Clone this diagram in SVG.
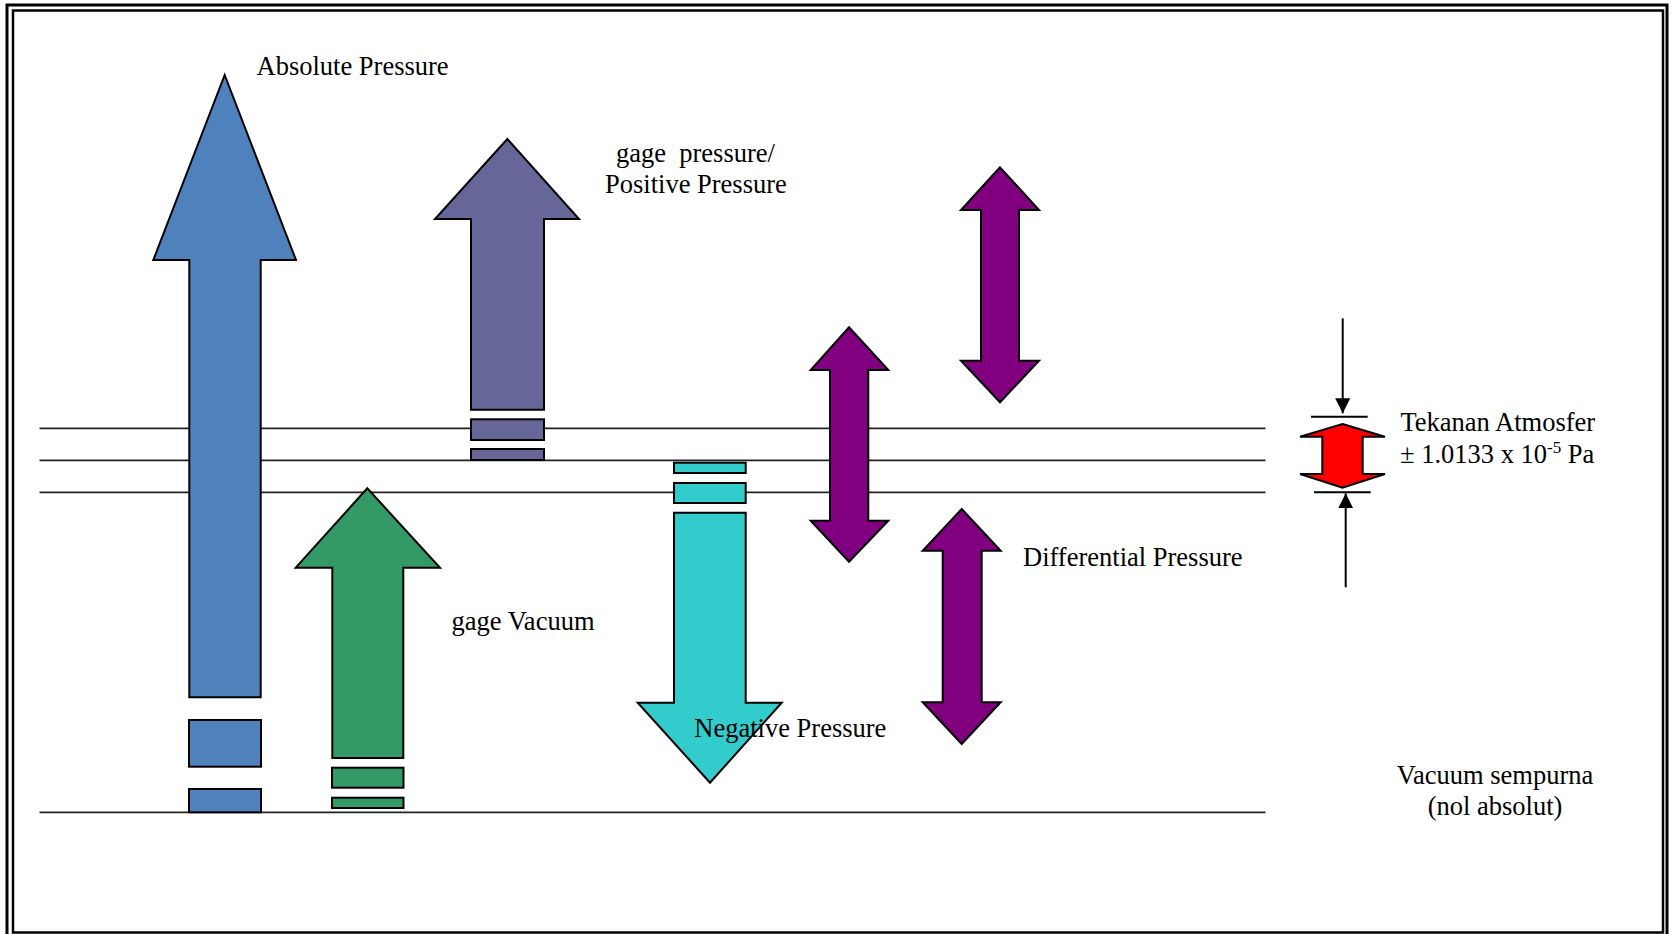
<svg xmlns="http://www.w3.org/2000/svg" width="1673" height="934" viewBox="0 0 1673 934">
<style>
  .t { font-family: "Liberation Serif", "Times New Roman", serif; font-size: 26.5px; fill: #000; }
  .lvl { stroke: #222; stroke-width: 1.8; fill: none; }
  .ar { stroke: #000; stroke-width: 2; stroke-linejoin: miter; }
  .blue { fill: #4F81BD; }
  .slate { fill: #666699; }
  .green { fill: #339966; }
  .cyan { fill: #33CCCC; }
  .purple { fill: #800080; }
  .red { fill: #FF0000; }
  .thin { stroke: #000; stroke-width: 2; fill: none; }
</style>
<defs>
  <marker id="ah" viewBox="0 0 10 10" refX="10" refY="5" markerWidth="15" markerHeight="15" markerUnits="userSpaceOnUse" orient="auto">
    <path d="M0,0 L10,5 L0,10 Z" fill="#000"/>
  </marker>
</defs>
<rect x="0" y="0" width="1673" height="934" fill="#fff"/>
<g id="frame">
  <rect x="7" y="5" width="1660" height="940" fill="none" stroke="#000" stroke-width="3"/>
  <rect x="13" y="10.5" width="1650" height="922" fill="none" stroke="#000" stroke-width="2.5"/>
</g>
<g id="levels">
  <line class="lvl" x1="39.5" y1="428.3" x2="1265.5" y2="428.3"/>
  <line class="lvl" x1="39.5" y1="460.3" x2="1265.5" y2="460.3"/>
  <line class="lvl" x1="39.5" y1="492.3" x2="1265.5" y2="492.3"/>
  <line class="lvl" x1="39.5" y1="812.3" x2="1265.5" y2="812.3"/>
</g>
<g id="absolute-pressure">
  <polygon class="ar blue" points="224.7,75 296,260 260.7,260 260.7,697.3 189.3,697.3 189.3,260 153.3,260"/>
  <rect class="ar blue" x="189" y="720" width="72" height="46.7"/>
  <rect class="ar blue" x="189" y="789" width="72" height="23.3"/>
  <text class="t" x="256.5" y="75">Absolute Pressure</text>
</g>
<g id="gage-pressure">
  <polygon class="ar slate" points="507.3,139 579,219 544,219 544,409.7 471,409.7 471,219 435,219"/>
  <rect class="ar slate" x="471" y="419.3" width="73" height="20.7"/>
  <rect class="ar slate" x="471" y="449" width="73" height="11"/>
  <text class="t" x="616" y="162" xml:space="preserve">gage  pressure/</text>
  <text class="t" x="605" y="192.5">Positive Pressure</text>
</g>
<g id="gage-vacuum">
  <polygon class="ar green" points="367.3,488.3 440,567.7 403.3,567.7 403.3,758 332.3,758 332.3,567.7 295.7,567.7"/>
  <rect class="ar green" x="332" y="767.7" width="71.5" height="20"/>
  <rect class="ar green" x="332" y="797.7" width="71.5" height="10.3"/>
  <text class="t" x="451.5" y="630">gage Vacuum</text>
</g>
<g id="negative-pressure">
  <rect class="ar cyan" x="674" y="462.7" width="71.7" height="10.3"/>
  <rect class="ar cyan" x="674" y="483" width="71.7" height="20"/>
  <polygon class="ar cyan" points="674,512.7 745.7,512.7 745.7,702.7 781.7,702.7 710,782.7 637.7,702.7 674,702.7"/>
  <text class="t" x="694.3" y="737.3">Negative Pressure</text>
</g>
<g id="differential-pressure">
  <polygon class="ar purple" points="1000,167.3 1039,210 1019,210 1019,360.7 1039,360.7 1000,402.3 961,360.7 981,360.7 981,210 961,210"/>
  <polygon class="ar purple" points="849,327.3 888.3,370 868.3,370 868.3,520.7 888.3,520.7 849,561.7 810.7,520.7 830,520.7 830,370 810.7,370"/>
  <polygon class="ar purple" points="961.7,509 1000.7,550.7 981.7,550.7 981.7,702.3 1000.7,702.3 961.7,744 922.7,702.3 942.7,702.3 942.7,550.7 922.7,550.7"/>
  <text class="t" x="1023" y="565.7">Differential Pressure</text>
</g>
<g id="atmospheric-pressure">
  <polygon class="ar red" points="1342.5,424 1385,436.7 1362.7,436.7 1362.7,474 1385,474 1342.5,487.7 1300,474 1322.3,474 1322.3,436.7 1300,436.7"/>
  <text class="t" x="1400.5" y="430.7">Tekanan Atmosfer</text>
  <text class="t" x="1400" y="463.3">± 1.0133 x 10<tspan font-size="17" dy="-10">-5</tspan><tspan dy="10"> Pa</tspan></text>
</g>
<g id="connectors">
  <line class="thin" x1="1311" y1="416.7" x2="1367.7" y2="416.7"/>
  <line class="thin" x1="1314" y1="492.3" x2="1370.7" y2="492.3"/>
  <line class="thin" x1="1342.7" y1="318.3" x2="1342.7" y2="413.3" marker-end="url(#ah)"/>
  <line class="thin" x1="1345.7" y1="587.3" x2="1345.7" y2="493.3" marker-end="url(#ah)"/>
</g>
<g id="perfect-vacuum">
  <text class="t" x="1495" y="783.5" text-anchor="middle">Vacuum sempurna</text>
  <text class="t" x="1495" y="814.5" text-anchor="middle">(nol absolut)</text>
</g>
</svg>
